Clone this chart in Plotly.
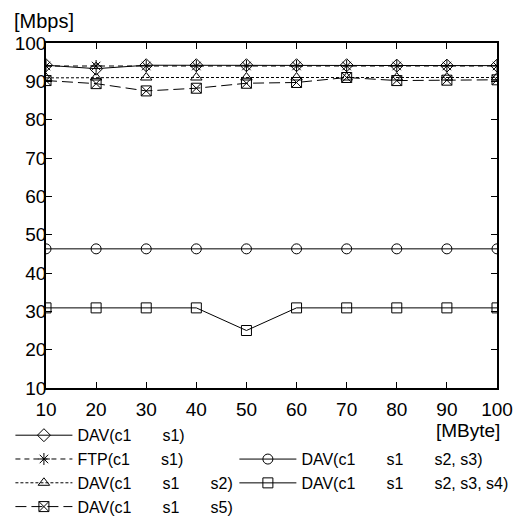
import plotly.graph_objects as go

sizes = [10, 20, 30, 40, 50, 60, 70, 80, 90, 100]
dav_s1 = [94.2, 93.3, 94.2, 94.2, 94.2, 94.2, 94.2, 94.1, 94.1, 94.1]
ftp_s1 = [94.0, 94.0, 94.0, 94.0, 94.0, 94.0, 94.0, 94.0, 94.0, 94.0]
dav_s2 = [90.9, 91.0, 91.0, 91.0, 91.0, 91.0, 91.0, 91.0, 91.0, 91.0]
dav_s5 = [90.2, 89.4, 87.5, 88.2, 89.5, 89.7, 91.0, 90.2, 90.3, 90.4]
dav_s23 = [46.3, 46.3, 46.3, 46.3, 46.3, 46.3, 46.3, 46.3, 46.3, 46.3]
dav_s234 = [30.9, 30.9, 30.9, 30.9, 25.0, 30.9, 30.9, 30.9, 30.9, 30.9]

sp = "\u00a0" * 7
names = [
    "DAV(c1" + sp + "s1)",
    "FTP(c1" + sp + "s1)",
    "DAV(c1" + sp + "s1" + sp + "s2)",
    "DAV(c1" + sp + "s1" + sp + "s5)",
    "DAV(c1" + sp + "s1" + sp + "s2, s3)",
    "DAV(c1" + sp + "s1" + sp + "s2, s3, s4)",
]

series = [
    (dav_s1, names[0], "solid", "diamond-open", "legend"),
    (ftp_s1, names[1], "5px,4px", "asterisk-open", "legend"),
    (dav_s2, names[2], "3px,2px", "triangle-up-open", "legend"),
    (dav_s5, names[3], "11px,5px", "square-x-open", "legend"),
    (dav_s23, names[4], "solid", "circle-open", "legend2"),
    (dav_s234, names[5], "solid", "square-open", "legend2"),
]

fig = go.Figure()
for ys, nm, dash, sym, lg in series:
    fig.add_trace(go.Scatter(
        x=sizes, y=ys, name=nm, mode="lines+markers",
        line=dict(color="black", width=1, dash=dash),
        marker=dict(symbol=sym, size=10, color="black", line=dict(color="black", width=1)),
        legend=lg,
    ))

axis_common = dict(
    showline=True, linecolor="black", linewidth=1.5, mirror="ticks",
    ticks="inside", ticklen=6, tickcolor="black", tickwidth=1,
    showgrid=False, zeroline=False,
    tickfont=dict(family="Arial, Liberation Sans", size=19, color="black"),
)

fig.update_layout(
    width=513, height=515,
    paper_bgcolor="white", plot_bgcolor="white",
    margin=dict(l=38, r=24, t=35, b=135, autoexpand=False),
    font=dict(family="Arial, Liberation Sans", color="black"),
    xaxis=dict(range=[10, 100], dtick=10, tick0=10, ticklabelstandoff=3, **axis_common),
    yaxis=dict(range=[10, 100], dtick=10, tick0=10, ticklabelstandoff=-6, **axis_common),
    legend=dict(
        x=-0.0789, y=-0.0878, xanchor="left", yanchor="top",
        font=dict(size=16, color="black"), bgcolor="rgba(0,0,0,0)",
        itemwidth=57, tracegroupgap=0,
    ),
    legend2=dict(
        x=0.4177, y=-0.157, xanchor="left", yanchor="top",
        font=dict(size=16, color="black"), bgcolor="rgba(0,0,0,0)",
        itemwidth=57, tracegroupgap=0,
    ),
    annotations=[
        dict(text="[Mbps]", xref="paper", yref="paper", x=-0.0754, y=1.0, yshift=9,
             xanchor="left", yanchor="bottom", showarrow=False, font=dict(size=20)),
        dict(text="[MByte]", xref="paper", yref="paper", x=1.011, y=0, yshift=-30,
             xanchor="right", yanchor="top", showarrow=False, font=dict(size=19)),
    ],
)

fig.write_html("out.html")
